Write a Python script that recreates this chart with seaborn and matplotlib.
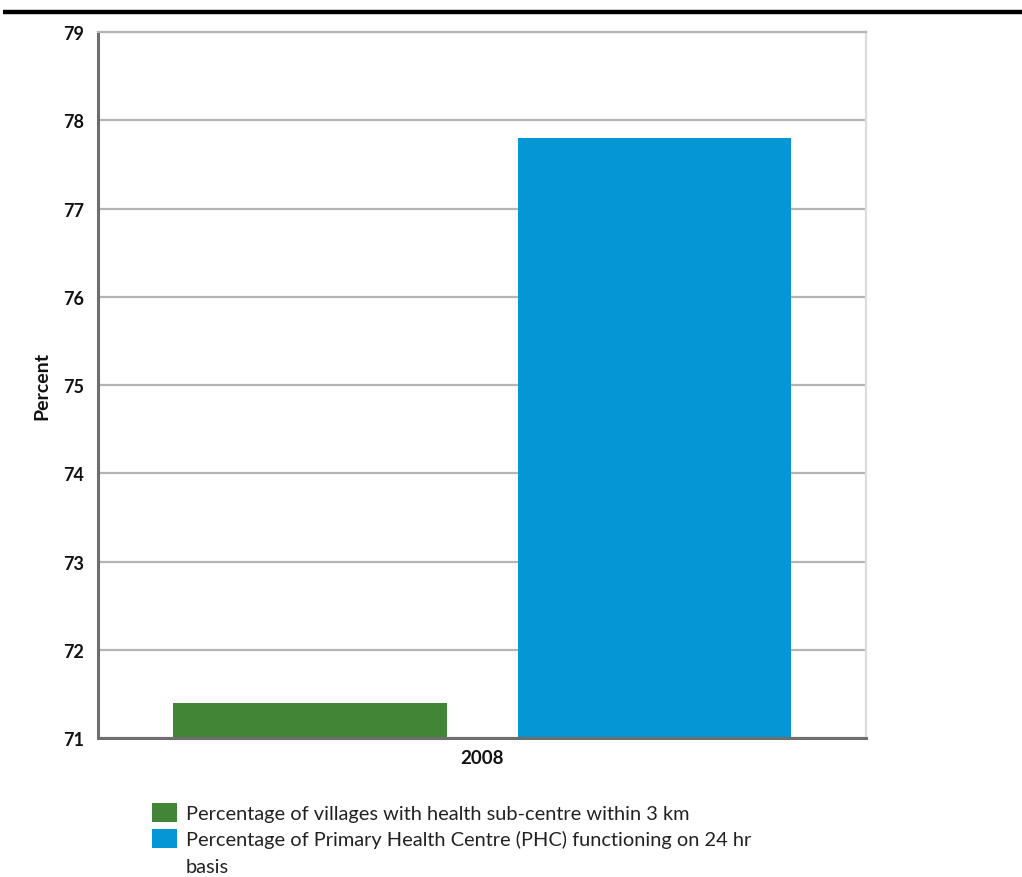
import matplotlib
matplotlib.use("Agg")
import matplotlib.pyplot as plt
from matplotlib.lines import Line2D
from matplotlib.patches import Patch
import pandas as pd
import seaborn as sns

# Health infrastructure indicators, 2008
years = ["2008", "2008"]
series = [
    "Percentage of villages with health sub-centre within 3 km",
    "Percentage of Primary Health Centre (PHC) functioning on 24 hr\nbasis",
]
values = [71.4, 77.8]
y_ticks = [71, 72, 73, 74, 75, 76, 77, 78, 79]

palette = ["#438537", "#0596D6"]

df = pd.DataFrame({"Year": years, "Series": series, "Percent": values})

sns.set_theme(style="white")
plt.rcParams["font.family"] = ["Lato", "DejaVu Sans"]

fig = plt.figure(figsize=(10.22, 8.78), dpi=100)
ax = fig.add_axes([0.0959, 0.1583, 0.7515, 0.8041])

sns.barplot(
    data=df, x="Year", y="Percent", hue="Series",
    palette=palette, width=0.898, gap=0.206, saturation=1,
    edgecolor="none", ax=ax, legend=True,
)

ax.set_ylim(71, 79)
ax.set_xlim(-0.5, 0.5)
ax.set_yticks(y_ticks)
ax.set_yticklabels([str(t) for t in y_ticks], fontsize=13, fontweight="bold", color="#111111")
ax.set_xticks([0])
ax.set_xticklabels(["2008"], fontsize=13.5, fontweight="bold", color="#111111")
ax.tick_params(axis="y", length=0, pad=10)
ax.tick_params(axis="x", length=0, pad=8)
ax.set_xlabel("")
ax.set_ylabel("Percent", fontsize=14, fontweight="bold", color="#111111")
ax.yaxis.set_label_coords(-0.0625, 0.5)

ax.grid(axis="y", color="#b4b4b4", linewidth=1.6)
ax.set_axisbelow(True)

for side in ("left", "bottom"):
    ax.spines[side].set_color("#6e6e6e")
    ax.spines[side].set_linewidth(2.2)
ax.spines["top"].set_color("#b4b4b4")
ax.spines["top"].set_linewidth(1.6)
ax.spines["right"].set_color("#dcdcdc")
ax.spines["right"].set_linewidth(1.6)

# Legend below the plot: wrapped labels continue on their own rows so each
# swatch sits beside the first line of its label
handles, labels = ax.get_legend_handles_labels()
leg_handles, leg_labels = [], []
for h, lab in zip(handles, labels):
    parts = lab.split("\n")
    leg_handles.append(h)
    leg_labels.append(parts[0])
    for extra in parts[1:]:
        leg_handles.append(Patch(facecolor="none", edgecolor="none"))
        leg_labels.append(extra)

ax.legend(
    leg_handles, leg_labels, loc="upper left", bbox_to_anchor=(0.1487, 0.0845),
    bbox_transform=fig.transFigure, frameon=False,
    fontsize=14.4, handlelength=1.25, handleheight=1.1,
    handletextpad=0.45, labelspacing=0.34, borderaxespad=0,
    borderpad=0, labelcolor="#222222",
)

# Rule across the top of the page
fig.add_artist(Line2D([0.003, 1.0], [0.985, 0.985], transform=fig.transFigure,
                      color="black", linewidth=3.2, solid_capstyle="butt"))

fig.savefig("out.png", dpi=100)
